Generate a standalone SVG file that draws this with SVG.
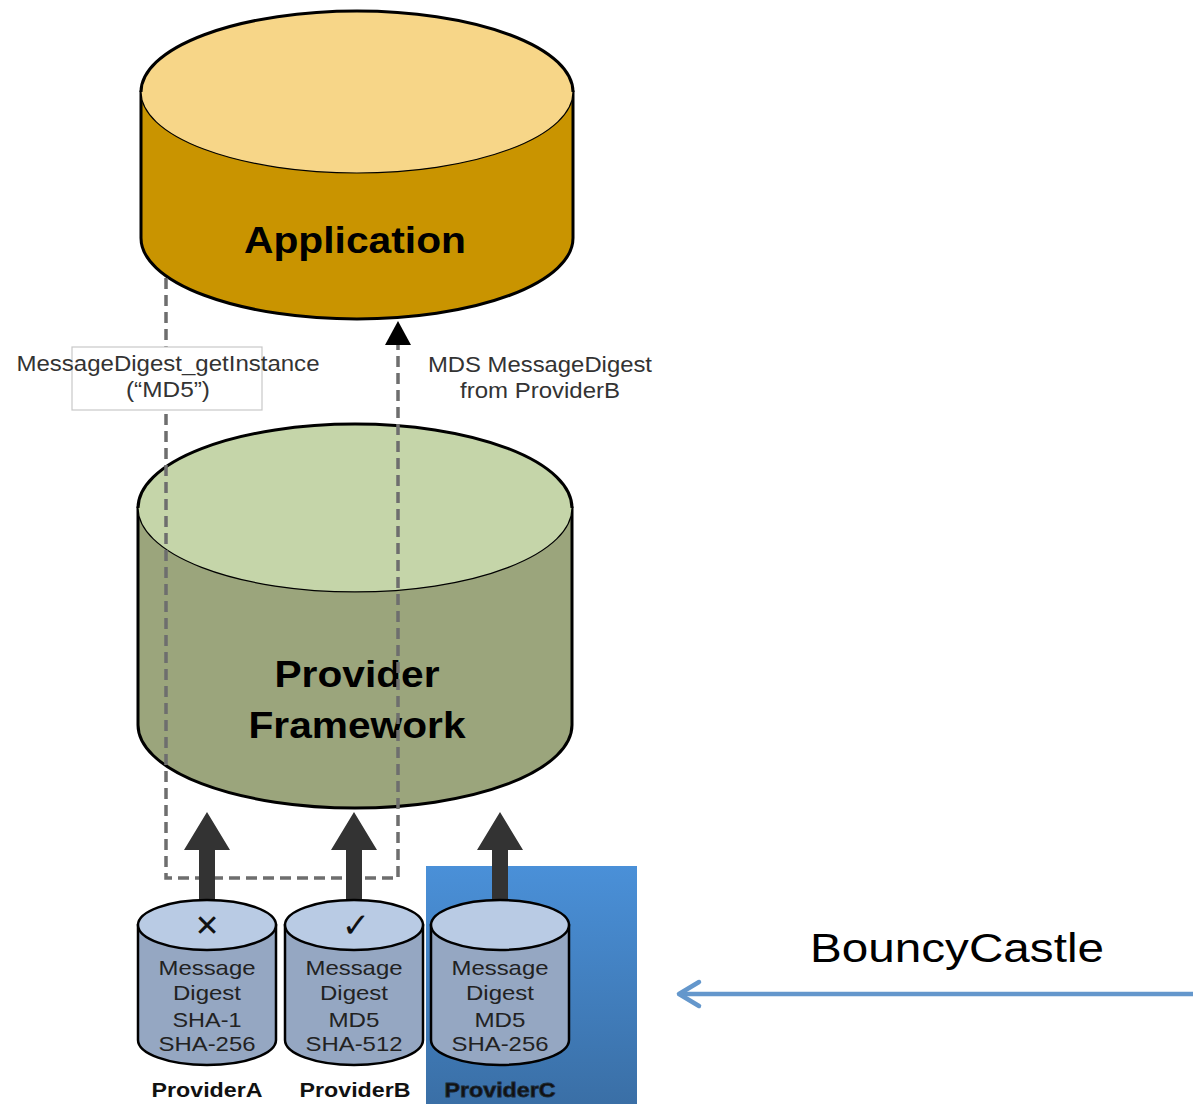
<svg xmlns="http://www.w3.org/2000/svg" width="1201" height="1104" viewBox="0 0 1201 1104">
<defs>
<linearGradient id="blueGrad" x1="0" y1="0" x2="0" y2="1">
<stop offset="0" stop-color="#4a90d8"/>
<stop offset="1" stop-color="#3a6fa6"/>
</linearGradient>
</defs>
<style>
.cyl{stroke:#000;stroke-width:3}
.cylsm{stroke:#000;stroke-width:2.5}
.inner{fill:none;stroke:#000;stroke-width:1.2}
.big{font-family:"Liberation Sans",Arial,sans-serif;font-weight:bold;fill:#000;text-anchor:middle}
.lbl{font-family:"Liberation Sans",Arial,sans-serif;font-size:22px;fill:#333;text-anchor:middle}
.sm{font-family:"Liberation Sans",Arial,sans-serif;font-size:21px;fill:#222;text-anchor:middle}
.pname{font-family:"Liberation Sans",Arial,sans-serif;font-size:21px;font-weight:bold;fill:#111;text-anchor:middle}
.dash{fill:none;stroke:#6e6e6e;stroke-width:3.5;stroke-dasharray:11 6}
.thick{fill:#333}
</style>

<rect id="bouncy-highlight" x="426" y="866" width="211" height="238" fill="url(#blueGrad)"/>

<g id="application">
<path class="cyl" d="M141,92 V238 A216,81 0 0 0 573,238 V92 Z" fill="#c99400"/>
<ellipse cx="357" cy="92" rx="216" ry="81" fill="#f7d688"/>
<path d="M141,92 A216,81 0 0 1 573,92" fill="none" stroke="#000" stroke-width="3"/>
<path class="inner" d="M141,92 A216,81 0 0 0 573,92"/>
<text class="big" x="355" y="253" font-size="37" textLength="222" lengthAdjust="spacingAndGlyphs">Application</text>
</g>

<g id="provider-framework">
<path class="cyl" d="M138,508 V725 A217,83 0 0 0 572,725 V508 Z" fill="#9ba57c"/>
<ellipse cx="355" cy="508" rx="217" ry="84" fill="#c5d5a9"/>
<path d="M138,508 A217,84 0 0 1 572,508" fill="none" stroke="#000" stroke-width="3"/>
<path class="inner" d="M138,508 A217,84 0 0 0 572,508"/>
<text class="big" x="357" y="687" font-size="36" textLength="165" lengthAdjust="spacingAndGlyphs">Provider</text>
<text class="big" x="357" y="738" font-size="36" textLength="217" lengthAdjust="spacingAndGlyphs">Framework</text>
</g>

<g id="connectors">
<path class="dash" d="M166,278 V878 H398 V344"/>
<path d="M385,345 L398,321 L411,345 Z" fill="#000"/>
<path class="thick" d="M199,902 V850 H184 L207,812 L230,850 H215 V902 Z"/>
<path class="thick" d="M346,902 V850 H331 L354,812 L377,850 H362 V902 Z"/>
<path class="thick" d="M492,902 V850 H477 L500,812 L523,850 H508 V902 Z"/>
<line x1="1193" y1="994" x2="680" y2="994" stroke="#6497cc" stroke-width="4.5"/>
<path d="M699,982 L679,994 L699,1006" fill="none" stroke="#6497cc" stroke-width="4.5" stroke-linecap="round" stroke-linejoin="round"/>
</g>

<g id="label-getinstance">
<rect x="72" y="347" width="190" height="63" fill="#fff" stroke="#c8c8c8" stroke-width="1.2"/>
<text class="lbl" x="168" y="371" textLength="303" lengthAdjust="spacingAndGlyphs">MessageDigest_getInstance</text>
<text class="lbl" x="168" y="397" textLength="84" lengthAdjust="spacingAndGlyphs">(“MD5”)</text>
</g>

<g id="label-return">
<text class="lbl" x="540" y="372" textLength="224" lengthAdjust="spacingAndGlyphs">MDS MessageDigest</text>
<text class="lbl" x="540" y="398" textLength="160" lengthAdjust="spacingAndGlyphs">from ProviderB</text>
</g>

<g id="providerA">
<path class="cylsm" d="M138,925 V1040 A69,25 0 0 0 276,1040 V925 Z" fill="#95a7c2"/>
<ellipse class="cylsm" cx="207" cy="925" rx="69" ry="25" fill="#b9cbe4"/>
<text x="207" y="936" font-family="DejaVu Sans,sans-serif" font-size="30" text-anchor="middle" fill="#111">✕</text>
<text class="sm" x="207" y="975" textLength="97" lengthAdjust="spacingAndGlyphs">Message</text>
<text class="sm" x="207" y="1000" textLength="68" lengthAdjust="spacingAndGlyphs">Digest</text>
<text class="sm" x="207" y="1027" textLength="69" lengthAdjust="spacingAndGlyphs">SHA-1</text>
<text class="sm" x="207" y="1051" textLength="97" lengthAdjust="spacingAndGlyphs">SHA-256</text>
<text class="pname" x="207" y="1097" textLength="111" lengthAdjust="spacingAndGlyphs">ProviderA</text>
</g>

<g id="providerB">
<path class="cylsm" d="M285,925 V1040 A69,25 0 0 0 423,1040 V925 Z" fill="#95a7c2"/>
<ellipse class="cylsm" cx="354" cy="925" rx="69" ry="25" fill="#b9cbe4"/>
<text x="356" y="937" font-family="DejaVu Sans,sans-serif" font-size="34" text-anchor="middle" fill="#111">✓</text>
<text class="sm" x="354" y="975" textLength="97" lengthAdjust="spacingAndGlyphs">Message</text>
<text class="sm" x="354" y="1000" textLength="68" lengthAdjust="spacingAndGlyphs">Digest</text>
<text class="sm" x="354" y="1027" textLength="51" lengthAdjust="spacingAndGlyphs">MD5</text>
<text class="sm" x="354" y="1051" textLength="97" lengthAdjust="spacingAndGlyphs">SHA-512</text>
<text class="pname" x="355" y="1097" textLength="111" lengthAdjust="spacingAndGlyphs">ProviderB</text>
</g>

<g id="providerC">
<path class="cylsm" d="M431,925 V1040 A69,25 0 0 0 569,1040 V925 Z" fill="#95a7c2"/>
<ellipse class="cylsm" cx="500" cy="925" rx="69" ry="25" fill="#b9cbe4"/>
<text class="sm" x="500" y="975" textLength="97" lengthAdjust="spacingAndGlyphs">Message</text>
<text class="sm" x="500" y="1000" textLength="68" lengthAdjust="spacingAndGlyphs">Digest</text>
<text class="sm" x="500" y="1027" textLength="51" lengthAdjust="spacingAndGlyphs">MD5</text>
<text class="sm" x="500" y="1051" textLength="97" lengthAdjust="spacingAndGlyphs">SHA-256</text>
<text class="pname" x="500" y="1097" textLength="111" lengthAdjust="spacingAndGlyphs" fill="#5a6f8a" stroke="#1a2a3a" stroke-width="0.8">ProviderC</text>
</g>

<g id="bouncycastle-label">
<text x="957" y="962" font-family="Liberation Sans,Arial,sans-serif" font-size="41" text-anchor="middle" fill="#000" textLength="294" lengthAdjust="spacingAndGlyphs">BouncyCastle</text>
</g>
</svg>
